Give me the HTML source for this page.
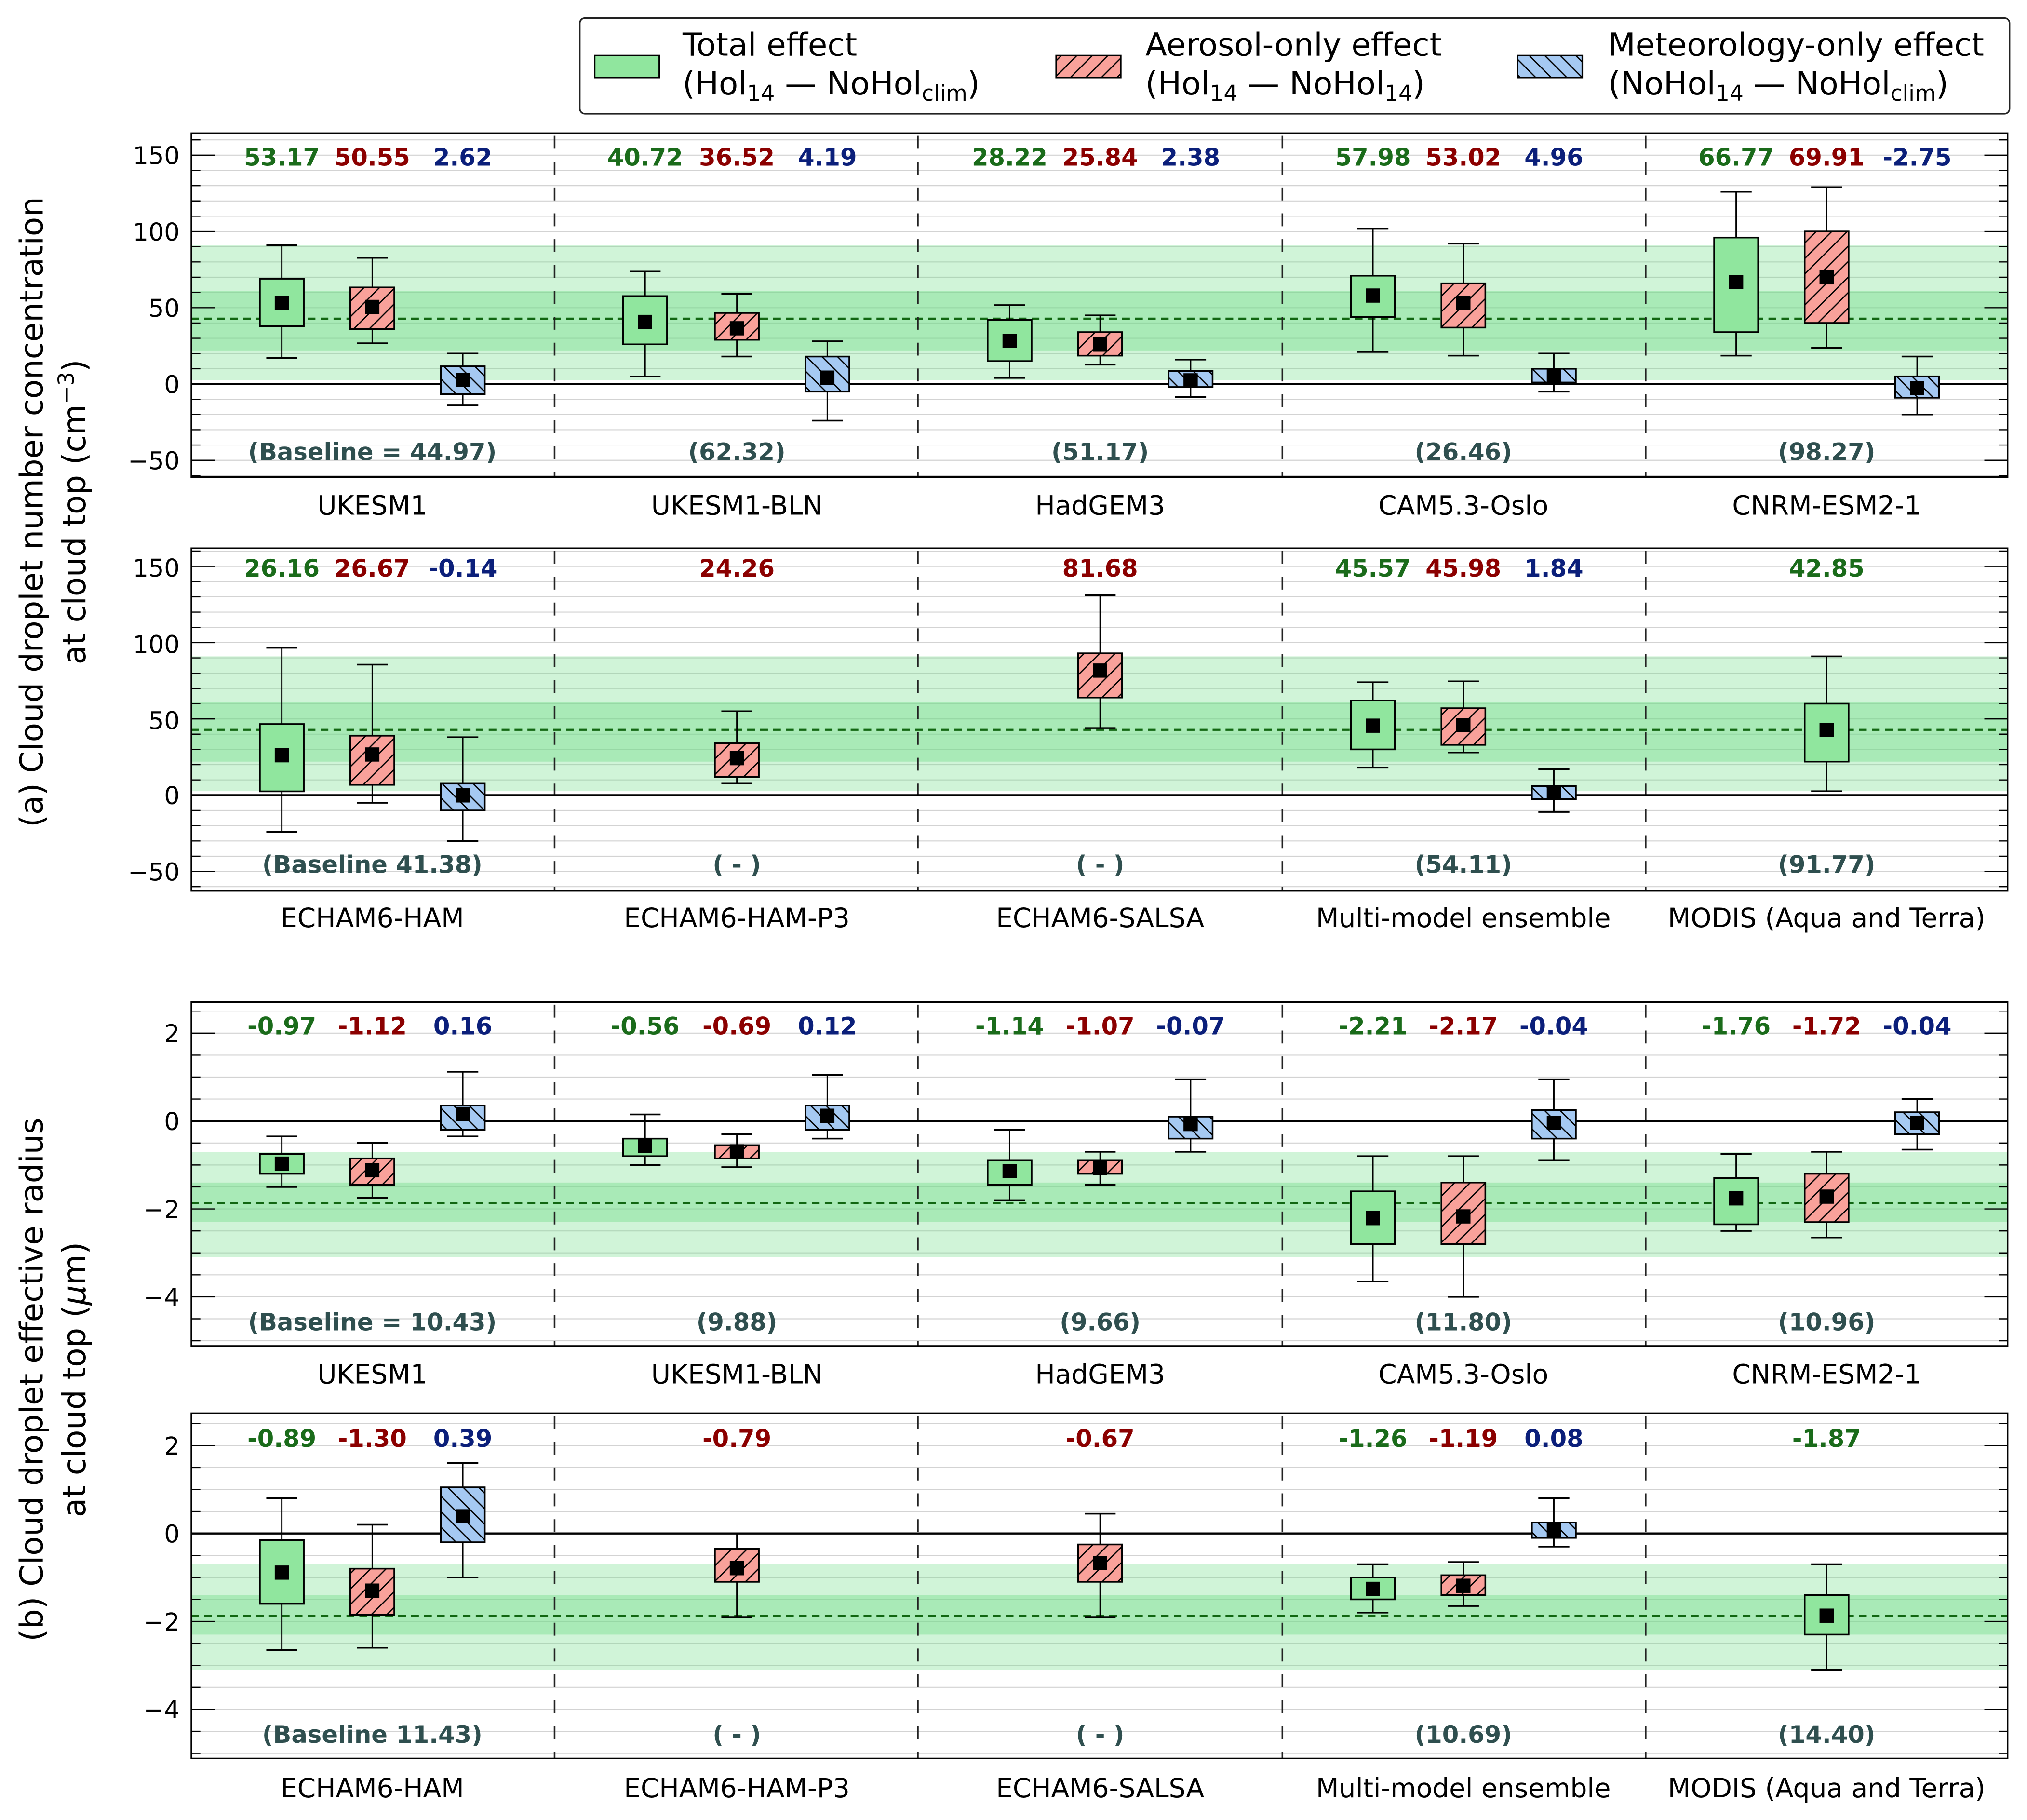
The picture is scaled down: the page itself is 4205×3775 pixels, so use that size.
<!DOCTYPE html>
<html><head><meta charset="utf-8">
<style>
html,body{margin:0;padding:0;background:#fff;}
svg{display:block;font-family:"DejaVu Sans","Liberation Sans",sans-serif;}
.tk{font-size:19px;text-anchor:end;}
.cat{font-size:20.5px;text-anchor:middle;}
.v{font-size:18.5px;font-weight:bold;text-anchor:middle;}
.g{fill:#1a6b1a}.r{fill:#8b0000}.b{fill:#0b1f7a}.bl{fill:#2f4f4f}
.lg{font-size:24.5px;}
.yl{font-size:24.5px;text-anchor:middle;}
</style></head><body>
<svg id="s" width="4205" height="3775" viewBox="0 0 1568 1407.6" preserveAspectRatio="none" xmlns="http://www.w3.org/2000/svg">
<defs>
<pattern id="hr" patternUnits="userSpaceOnUse" width="12" height="12"><rect width="12" height="12" fill="#f9a19a"/><path d="M-3,15 L15,-3 M-9,9 L9,-9 M3,21 L21,3" stroke="#000" stroke-width="1"/></pattern>
<pattern id="hb" patternUnits="userSpaceOnUse" width="12" height="12"><rect width="12" height="12" fill="#a5c9f2"/><path d="M-3,-3 L15,15 M-9,3 L9,21 M3,-9 L21,9" stroke="#000" stroke-width="1"/></pattern>
</defs>
<g id="shapes"></g>
<!-- legend -->
<rect x="448.5" y="14" width="1106" height="74" rx="4" fill="#fff" stroke="#222" stroke-width="1.2"/>
<rect x="460" y="43" width="50" height="17" fill="#90e69e" stroke="#000" stroke-width="1.2"/>
<rect x="817" y="43" width="50" height="17" fill="url(#hr)" stroke="#000" stroke-width="1.2"/>
<rect x="1174" y="43" width="50" height="17" fill="url(#hb)" stroke="#000" stroke-width="1.2"/>
<text class="lg" x="528" y="43">Total effect</text>
<text class="lg" x="528" y="73">(Hol<tspan font-size="17" dy="5">14</tspan><tspan dy="-5"> — NoHol</tspan><tspan font-size="17" dy="5">clim</tspan><tspan dy="-5">)</tspan></text>
<text class="lg" x="886" y="43">Aerosol-only effect</text>
<text class="lg" x="886" y="73">(Hol<tspan font-size="17" dy="5">14</tspan><tspan dy="-5"> — NoHol</tspan><tspan font-size="17" dy="5">14</tspan><tspan dy="-5">)</tspan></text>
<text class="lg" x="1244" y="43">Meteorology-only effect</text>
<text class="lg" x="1244" y="73">(NoHol<tspan font-size="17" dy="5">14</tspan><tspan dy="-5"> — NoHol</tspan><tspan font-size="17" dy="5">clim</tspan><tspan dy="-5">)</tspan></text>

<!-- y labels -->
<text class="yl" transform="translate(33,396) rotate(-90)">(a) Cloud droplet number concentration</text>
<text class="yl" transform="translate(66,396) rotate(-90)">at cloud top (cm<tspan font-size="17" dy="-9">−3</tspan><tspan dy="9">)</tspan></text>
<text class="yl" transform="translate(33,1067) rotate(-90)">(b) Cloud droplet effective radius</text>
<text class="yl" transform="translate(66,1067) rotate(-90)">at cloud top (<tspan font-style="italic">μ</tspan>m)</text>

<!-- tick labels -->
<text class="tk" x="139" y="127">150</text><text class="tk" x="139" y="186">100</text><text class="tk" x="139" y="245">50</text><text class="tk" x="139" y="304">0</text><text class="tk" x="139" y="363">−50</text>
<text class="tk" x="139" y="446">150</text><text class="tk" x="139" y="505">100</text><text class="tk" x="139" y="564">50</text><text class="tk" x="139" y="622">0</text><text class="tk" x="139" y="681">−50</text>
<text class="tk" x="139" y="806">2</text><text class="tk" x="139" y="874">0</text><text class="tk" x="139" y="942">−2</text><text class="tk" x="139" y="1010">−4</text>
<text class="tk" x="139" y="1125">2</text><text class="tk" x="139" y="1193">0</text><text class="tk" x="139" y="1261">−2</text><text class="tk" x="139" y="1329">−4</text>

<!-- category labels -->
<text class="cat" x="288" y="398">UKESM1</text><text class="cat" x="570" y="398">UKESM1-BLN</text><text class="cat" x="851" y="398">HadGEM3</text><text class="cat" x="1132" y="398">CAM5.3-Oslo</text><text class="cat" x="1413" y="398">CNRM-ESM2-1</text>
<text class="cat" x="288" y="717">ECHAM6-HAM</text><text class="cat" x="570" y="717">ECHAM6-HAM-P3</text><text class="cat" x="851" y="717">ECHAM6-SALSA</text><text class="cat" x="1132" y="717">Multi-model ensemble</text><text class="cat" x="1413" y="717">MODIS (Aqua and Terra)</text>
<text class="cat" x="288" y="1070">UKESM1</text><text class="cat" x="570" y="1070">UKESM1-BLN</text><text class="cat" x="851" y="1070">HadGEM3</text><text class="cat" x="1132" y="1070">CAM5.3-Oslo</text><text class="cat" x="1413" y="1070">CNRM-ESM2-1</text>
<text class="cat" x="288" y="1390">ECHAM6-HAM</text><text class="cat" x="570" y="1390">ECHAM6-HAM-P3</text><text class="cat" x="851" y="1390">ECHAM6-SALSA</text><text class="cat" x="1132" y="1390">Multi-model ensemble</text><text class="cat" x="1413" y="1390">MODIS (Aqua and Terra)</text>

<!-- value labels -->
<text class="v g" x="218" y="128">53.17</text><text class="v r" x="288" y="128">50.55</text><text class="v b" x="358" y="128">2.62</text>
<text class="v g" x="499" y="128">40.72</text><text class="v r" x="570" y="128">36.52</text><text class="v b" x="640" y="128">4.19</text>
<text class="v g" x="781" y="128">28.22</text><text class="v r" x="851" y="128">25.84</text><text class="v b" x="921" y="128">2.38</text>
<text class="v g" x="1062" y="128">57.98</text><text class="v r" x="1132" y="128">53.02</text><text class="v b" x="1202" y="128">4.96</text>
<text class="v g" x="1343" y="128">66.77</text><text class="v r" x="1413" y="128">69.91</text><text class="v b" x="1483" y="128">-2.75</text>
<text class="v bl" x="288" y="356">(Baseline = 44.97)</text><text class="v bl" x="570" y="356">(62.32)</text><text class="v bl" x="851" y="356">(51.17)</text><text class="v bl" x="1132" y="356">(26.46)</text><text class="v bl" x="1413" y="356">(98.27)</text>

<text class="v g" x="218" y="446">26.16</text><text class="v r" x="288" y="446">26.67</text><text class="v b" x="358" y="446">-0.14</text>
<text class="v r" x="570" y="446">24.26</text>
<text class="v r" x="851" y="446">81.68</text>
<text class="v g" x="1062" y="446">45.57</text><text class="v r" x="1132" y="446">45.98</text><text class="v b" x="1202" y="446">1.84</text>
<text class="v g" x="1413" y="446">42.85</text>
<text class="v bl" x="288" y="675">(Baseline 41.38)</text><text class="v bl" x="570" y="675">( - )</text><text class="v bl" x="851" y="675">( - )</text><text class="v bl" x="1132" y="675">(54.11)</text><text class="v bl" x="1413" y="675">(91.77)</text>

<text class="v g" x="218" y="800">-0.97</text><text class="v r" x="288" y="800">-1.12</text><text class="v b" x="358" y="800">0.16</text>
<text class="v g" x="499" y="800">-0.56</text><text class="v r" x="570" y="800">-0.69</text><text class="v b" x="640" y="800">0.12</text>
<text class="v g" x="781" y="800">-1.14</text><text class="v r" x="851" y="800">-1.07</text><text class="v b" x="921" y="800">-0.07</text>
<text class="v g" x="1062" y="800">-2.21</text><text class="v r" x="1132" y="800">-2.17</text><text class="v b" x="1202" y="800">-0.04</text>
<text class="v g" x="1343" y="800">-1.76</text><text class="v r" x="1413" y="800">-1.72</text><text class="v b" x="1483" y="800">-0.04</text>
<text class="v bl" x="288" y="1029">(Baseline = 10.43)</text><text class="v bl" x="570" y="1029">(9.88)</text><text class="v bl" x="851" y="1029">(9.66)</text><text class="v bl" x="1132" y="1029">(11.80)</text><text class="v bl" x="1413" y="1029">(10.96)</text>

<text class="v g" x="218" y="1119">-0.89</text><text class="v r" x="288" y="1119">-1.30</text><text class="v b" x="358" y="1119">0.39</text>
<text class="v r" x="570" y="1119">-0.79</text>
<text class="v r" x="851" y="1119">-0.67</text>
<text class="v g" x="1062" y="1119">-1.26</text><text class="v r" x="1132" y="1119">-1.19</text><text class="v b" x="1202" y="1119">0.08</text>
<text class="v g" x="1413" y="1119">-1.87</text>
<text class="v bl" x="288" y="1348">(Baseline 11.43)</text><text class="v bl" x="570" y="1348">( - )</text><text class="v bl" x="851" y="1348">( - )</text><text class="v bl" x="1132" y="1348">(10.69)</text><text class="v bl" x="1413" y="1348">(14.40)</text>
</svg>
<script>
(function(){
var NS="http://www.w3.org/2000/svg",G=document.getElementById("shapes");
function el(t,a){var e=document.createElementNS(NS,t);for(var k in a)e.setAttribute(k,a[k]);G.appendChild(e);return e;}
var L=148,R=1553;
var P=[
 {t:103,b:369,z:297,k:1.18,gmin:-60,gmax:160,gs:10,maj:50,band:[2.6,91,22,61,42.85]},
 {t:424,b:689,z:615,k:1.18,gmin:-60,gmax:160,gs:10,maj:50,band:[2.6,91,22,61,42.85]},
 {t:775,b:1041,z:867,k:34,gmin:-5,gmax:2.5,gs:0.5,maj:2,band:[-3.1,-0.7,-2.3,-1.4,-1.87]},
 {t:1093,b:1360,z:1186,k:34,gmin:-5,gmax:2.5,gs:0.5,maj:2,band:[-3.1,-0.7,-2.3,-1.4,-1.87]}
];
var D=[
[[218,0,17,38,69,91,53.17],[288,1,26.7,36,63.3,82.7,50.55],[358,2,-14,-6.7,11.6,20,2.62],
 [499,0,5,26,57.6,73.7,40.72],[570,1,18,29,46.6,59,36.52],[640,2,-24,-5,18,28,4.19],
 [781,0,4,15,42,51.7,28.22],[851,1,12.7,18.6,34,45,25.84],[921,2,-8.5,-2,8.5,16,2.38],
 [1062,0,21,44,71,101.7,57.98],[1132,1,18.6,37,66,92,53.02],[1202,2,-5,1,10,20,4.96],
 [1343,0,18.6,34,96,126,66.77],[1413,1,23.7,40,100,129,69.91],[1483,2,-20,-9,5,18,-2.75]],
[[218,0,-24,2.5,46.6,96.6,26.16],[288,1,-5,6.8,39,85.6,26.67],[358,2,-30,-10,7.6,38,-0.14],
 [570,1,7.6,12,34,55,24.26],[851,1,44,64,93,131,81.68],
 [1062,0,18,30,62,74,45.57],[1132,1,28,33,57,74.6,45.98],[1202,2,-11,-2.5,6,17,1.84],
 [1413,0,2.6,22,60,91,42.85]],
[[218,0,-1.5,-1.2,-0.75,-0.35,-0.97],[288,1,-1.75,-1.45,-0.85,-0.5,-1.12],[358,2,-0.35,-0.2,0.35,1.12,0.16],
 [499,0,-1.0,-0.8,-0.4,0.15,-0.56],[570,1,-1.05,-0.85,-0.55,-0.3,-0.69],[640,2,-0.4,-0.2,0.35,1.05,0.12],
 [781,0,-1.8,-1.45,-0.9,-0.2,-1.14],[851,1,-1.45,-1.2,-0.9,-0.7,-1.07],[921,2,-0.7,-0.4,0.1,0.95,-0.07],
 [1062,0,-3.65,-2.8,-1.6,-0.8,-2.21],[1132,1,-4.0,-2.8,-1.4,-0.8,-2.17],[1202,2,-0.9,-0.4,0.25,0.95,-0.04],
 [1343,0,-2.5,-2.35,-1.3,-0.75,-1.76],[1413,1,-2.65,-2.3,-1.2,-0.7,-1.72],[1483,2,-0.65,-0.3,0.2,0.5,-0.04]],
[[218,0,-2.65,-1.6,-0.15,0.8,-0.89],[288,1,-2.6,-1.85,-0.8,0.2,-1.30],[358,2,-1.0,-0.2,1.05,1.6,0.39],
 [570,1,-1.9,-1.1,-0.35,0,-0.79],[851,1,-1.9,-1.1,-0.25,0.45,-0.67],
 [1062,0,-1.8,-1.5,-1.0,-0.7,-1.26],[1132,1,-1.65,-1.4,-0.95,-0.65,-1.19],[1202,2,-0.3,-0.1,0.25,0.8,0.08],
 [1413,0,-3.1,-2.3,-1.4,-0.7,-1.87]]
];
var fills=["#90e69e","url(#hr)","url(#hb)"];
P.forEach(function(p,i){
 function Y(v){return p.z-v*p.k;}
 for(var v=p.gmin;v<=p.gmax+1e-9;v+=p.gs){var y=Y(v);if(y<p.t||y>p.b)continue;
  el("line",{x1:L,x2:R,y1:y,y2:y,stroke:"#d3d3d3","stroke-width":0.8});}
 var bd=p.band;
 el("rect",{x:L,y:Y(bd[1]),width:R-L,height:Y(bd[0])-Y(bd[1]),fill:"rgb(110,220,135)","fill-opacity":0.32});
 el("rect",{x:L,y:Y(bd[3]),width:R-L,height:Y(bd[2])-Y(bd[3]),fill:"rgb(110,220,135)","fill-opacity":0.4});
 el("line",{x1:L,x2:R,y1:Y(bd[4]),y2:Y(bd[4]),stroke:"#116611","stroke-width":1.6,"stroke-dasharray":"6,4"});
 [429,710,992,1273].forEach(function(x){el("line",{x1:x,x2:x,y1:p.t+2,y2:p.b,stroke:"#222","stroke-width":1.3,"stroke-dasharray":"10,10"});});
 el("line",{x1:L,x2:R,y1:p.z,y2:p.z,stroke:"#000","stroke-width":1.6});
 for(var v=p.gmin;v<=p.gmax+1e-9;v+=p.gs){var y=Y(v);if(y<p.t||y>p.b)continue;
  var m=Math.abs(Math.round(v/p.maj)*p.maj-v)<1e-6, len=m?18:7;
  el("line",{x1:L,x2:L+len,y1:y,y2:y,stroke:"#000","stroke-width":0.9});
  el("line",{x1:R-len,x2:R,y1:y,y2:y,stroke:"#000","stroke-width":0.9});}
 D[i].forEach(function(d){
  var x=d[0],w=34;
  el("line",{x1:x,x2:x,y1:Y(d[2]),y2:Y(d[5]),stroke:"#000","stroke-width":1.1});
  el("line",{x1:x-12,x2:x+12,y1:Y(d[2]),y2:Y(d[2]),stroke:"#000","stroke-width":1.3});
  el("line",{x1:x-12,x2:x+12,y1:Y(d[5]),y2:Y(d[5]),stroke:"#000","stroke-width":1.3});
  el("rect",{x:x-w/2,y:Y(d[4]),width:w,height:Y(d[3])-Y(d[4]),fill:fills[d[1]],stroke:"#000","stroke-width":1.3});
  el("rect",{x:x-5.5,y:Y(d[6])-5.5,width:11,height:11,fill:"#000"});
 });
 el("rect",{x:L,y:p.t,width:R-L,height:p.b-p.t,fill:"none",stroke:"#000","stroke-width":1.2});
});
})();
</script>
</body></html>
